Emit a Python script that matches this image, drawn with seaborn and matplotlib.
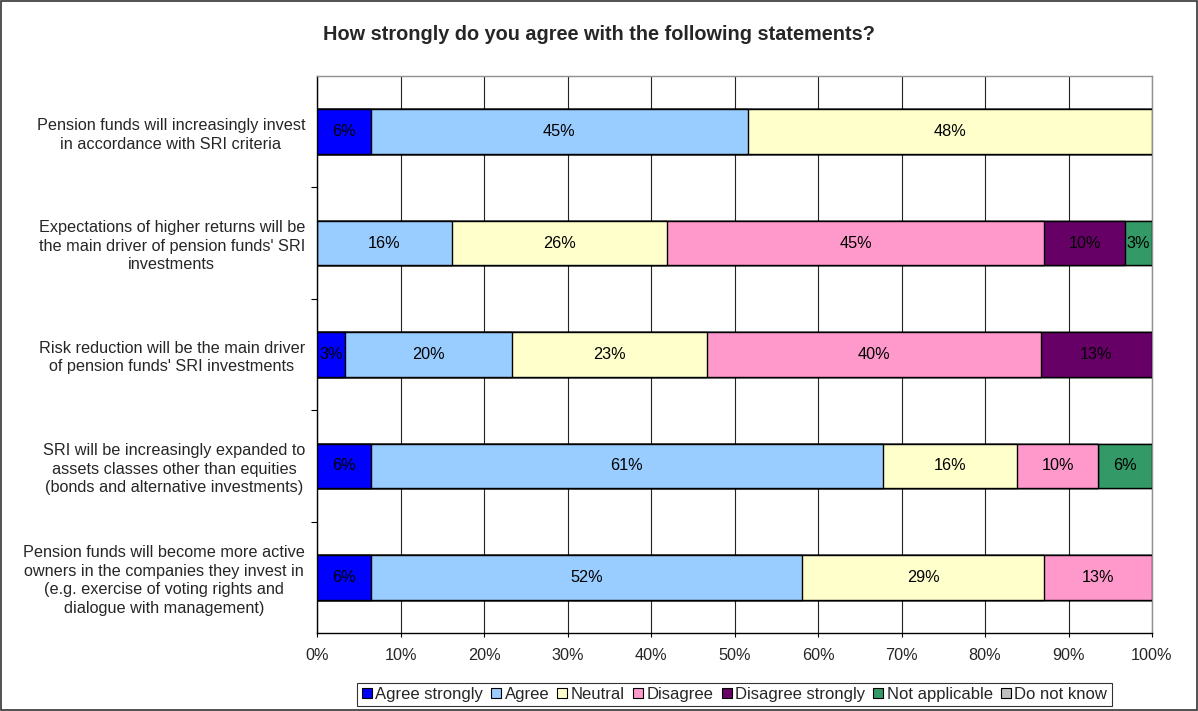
import matplotlib
matplotlib.use("Agg")
import matplotlib.pyplot as plt
import seaborn as sns
import pandas as pd
from matplotlib.patches import Patch, Rectangle

statements = [
    "Pension funds will increasingly invest\nin accordance with SRI criteria",
    "Expectations of higher returns will be\nthe main driver of pension funds' SRI\ninvestments",
    "Risk reduction will be the main driver\nof pension funds' SRI investments",
    "SRI will be increasingly expanded to\nassets classes other than equities\n(bonds and alternative investments)",
    "Pension funds will become more active\nowners in the companies they invest in\n(e.g. exercise of voting rights and\ndialogue with management)",
]
responses = ["Agree strongly", "Agree", "Neutral", "Disagree",
             "Disagree strongly", "Not applicable", "Do not know"]

agree_strongly = [6.45, 0.0, 3.33, 6.45, 6.45]
agree = [45.16, 16.13, 20.00, 61.29, 51.61]
neutral = [48.39, 25.81, 23.33, 16.13, 29.03]
disagree = [0.0, 45.16, 40.00, 9.68, 12.90]
disagree_strongly = [0.0, 9.68, 13.33, 0.0, 0.0]
not_applicable = [0.0, 3.23, 0.0, 6.45, 0.0]
do_not_know = [0.0, 0.0, 0.0, 0.0, 0.0]

series = [agree_strongly, agree, neutral, disagree,
          disagree_strongly, not_applicable, do_not_know]
colors = ["#0000FF", "#99CCFF", "#FFFFCC", "#FF99CC",
          "#660066", "#339966", "#C0C0C0"]

x_ticks = [0, 10, 20, 30, 40, 50, 60, 70, 80, 90, 100]
x_tick_labels = [f"{t}%" for t in x_ticks]
title = "How strongly do you agree with the following statements?"

sns.set_style("white")
plt.rcParams["font.family"] = ["Liberation Sans", "DejaVu Sans"]

FS = 11.7

fig = plt.figure(figsize=(11.98, 7.11), dpi=100)
ax = fig.add_axes([317 / 1198, 1 - 633 / 711, (1152 - 317) / 1198, (633 - 76) / 711])

keys = [f"s{i}" for i in range(len(statements))]
n = len(series)
cums = []
running = [0.0] * len(keys)
for s in series:
    running = [r + v for r, v in zip(running, s)]
    cums.append(list(running))

# Draw cumulative bars from the outermost layer inwards (stacked effect)
for i in reversed(range(n)):
    df = pd.DataFrame({"cat": keys, "val": cums[i]})
    sns.barplot(data=df, x="val", y="cat", order=keys, orient="h",
                color=colors[i], saturation=1, width=0.4, errorbar=None,
                edgecolor="black", linewidth=1.0, ax=ax, zorder=3)

# Segment labels
for i, s in enumerate(series):
    for j, v in enumerate(s):
        if v > 0.5:
            left = cums[i][j] - v
            ax.text(left + v / 2, j, f"{round(v):.0f}%", ha="center", va="center",
                    fontsize=FS, color="black", zorder=5)

ax.set_xlim(0, 100)
ax.set_ylim(4.5, -0.5)
ax.set_xticks(x_ticks)
ax.set_xticklabels(x_tick_labels, fontsize=FS)
ax.set_yticks(range(len(keys)))
ax.set_yticklabels(statements, fontsize=FS, multialignment="center", linespacing=1.28)
ax.set_yticks([0.5, 1.5, 2.5, 3.5], minor=True)
ax.tick_params(axis="y", which="major", length=0, pad=8.6)
ax.tick_params(axis="y", which="minor", length=4, width=0.8, color="black", direction="out", left=True)
ax.tick_params(axis="x", length=3, width=0.8, color="black", direction="out", pad=8, bottom=True)
ax.set_xlabel("")
ax.set_ylabel("")

ax.set_axisbelow(True)
ax.xaxis.grid(True, color="#222222", linewidth=0.8, zorder=0)
ax.yaxis.grid(False)

for side in ["left", "bottom"]:
    ax.spines[side].set_color("black")
    ax.spines[side].set_linewidth(1.0)
for side in ["top", "right"]:
    ax.spines[side].set_color("#909090")
    ax.spines[side].set_linewidth(1.0)
    ax.spines[side].set_visible(True)

fig.text(599 / 1198, 1 - 34 / 711, title, ha="center", va="center",
         fontsize=14.3, fontweight="bold")

handles = [Patch(facecolor=c, edgecolor="black", linewidth=0.8) for c in colors]
leg = fig.legend(handles, responses, loc="center", bbox_to_anchor=(734.5 / 1198, 1 - 694.5 / 711),
                 ncol=7, fontsize=12, handlelength=0.6, handleheight=0.6,
                 handletextpad=0.2, columnspacing=0.5, frameon=True, fancybox=False,
                 borderpad=0.25, borderaxespad=0)
leg.get_frame().set_edgecolor("black")
leg.get_frame().set_linewidth(0.8)

fig.patches.append(Rectangle((0.0008, 0.0014), 0.9984, 0.9972, transform=fig.transFigure,
                             fill=False, edgecolor="#333333", linewidth=1.2))

fig.savefig("out.png", dpi=100)
